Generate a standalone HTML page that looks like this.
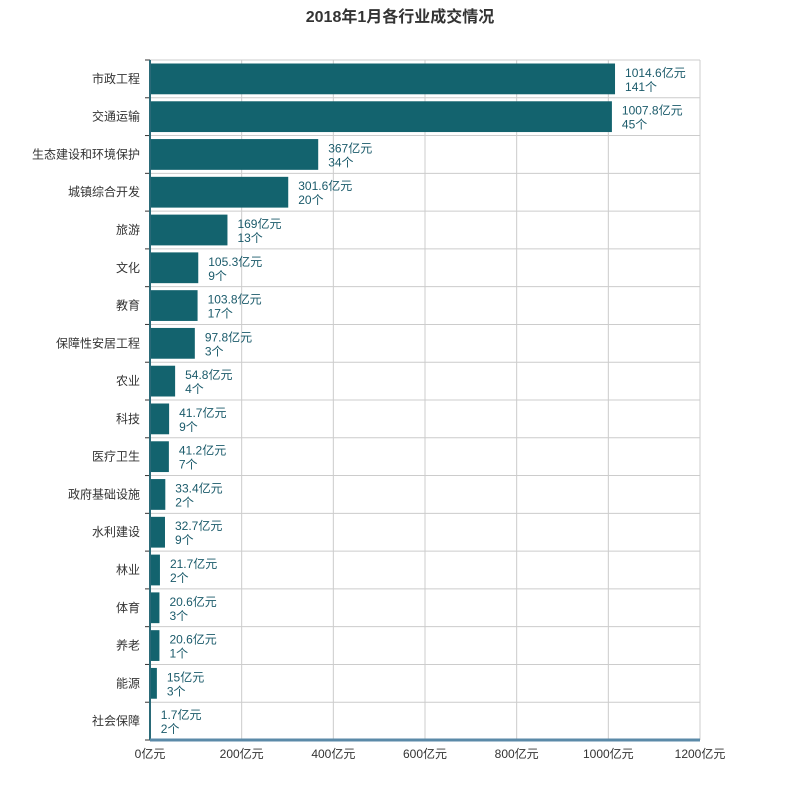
<!DOCTYPE html>
<html><head><meta charset="utf-8"><style>
body{margin:0;background:#fff;}
svg text{font-family:"Liberation Sans","Noto Sans CJK SC",sans-serif;}
</style></head><body>
<svg width="800" height="800" xmlns="http://www.w3.org/2000/svg">
<rect width="800" height="800" fill="#fff"/>
<text x="400" y="22" text-anchor="middle" font-size="16" font-weight="bold" fill="#333">2018年1月各行业成交情况</text>
<g id="grid" stroke="#ccc" stroke-width="1"></g>
<g id="bars"></g>
<line x1="150" y1="60" x2="150" y2="740" stroke="#2a6a78" stroke-width="2"/>
<line x1="150" y1="740" x2="700" y2="740" stroke="#5b8aa8" stroke-width="3"/>
</svg>
<script>
var d=[["市政工程",1014.6,"141"],["交通运输",1007.8,"45"],["生态建设和环境保护",367,"34"],["城镇综合开发",301.6,"20"],["旅游",169,"13"],["文化",105.3,"9"],["教育",103.8,"17"],["保障性安居工程",97.8,"3"],["农业",54.8,"4"],["科技",41.7,"9"],["医疗卫生",41.2,"7"],["政府基础设施",33.4,"2"],["水利建设",32.7,"9"],["林业",21.7,"2"],["体育",20.6,"3"],["养老",20.6,"1"],["能源",15,"3"],["社会保障",1.7,"2"]];
var ns="http://www.w3.org/2000/svg",g=document.getElementById("grid"),b=document.getElementById("bars");
function el(p,t,a,txt){var e=document.createElementNS(ns,t);for(var k in a)e.setAttribute(k,a[k]);if(txt!=null)e.textContent=txt;p.appendChild(e);return e;}
var x0=150,s=550/1200,y0=60,h=680/18;
for(var i=0;i<=6;i++){var x=x0+i*200*s;el(g,"line",{x1:x,y1:60,x2:x,y2:740});
el(b,"text",{x:x,y:758,"text-anchor":"middle","font-size":12,fill:"#333"},(i*200)+"亿元");}
for(var i=0;i<=18;i++){var y=y0+i*h;el(g,"line",{x1:150,y1:y,x2:700,y2:y});el(g,"line",{x1:145,y1:y,x2:150,y2:y,stroke:"#333"});}
d.forEach(function(r,i){var y=y0+i*h;var w=r[1]*s;
el(b,"rect",{x:150,y:y+3.5,width:w,height:h-7,fill:"#13636e"});
el(b,"text",{x:140,y:y+h/2+4,"text-anchor":"end","font-size":12,fill:"#333"},r[0]);
el(b,"text",{x:150+w+10,y:y+h/2-2,"font-size":12,fill:"#1a5a6a"},r[1]+"亿元");
el(b,"text",{x:150+w+10,y:y+h/2+12,"font-size":12,fill:"#1a5a6a"},r[2]+"个");});
</script>
</body></html>
